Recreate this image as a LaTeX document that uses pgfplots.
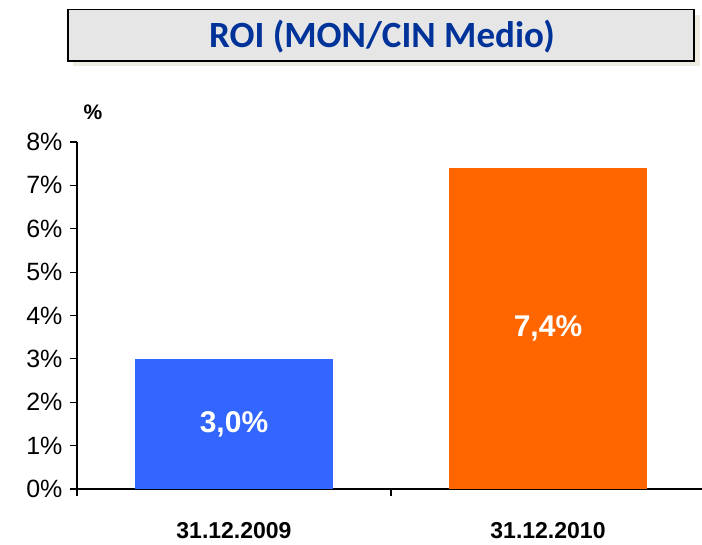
\documentclass[border=0pt]{standalone}
\usepackage{pgfplots}
\pgfplotsset{compat=1.18}
\usepackage{fontspec}
\setmainfont{Liberation Sans}
\newfontfamily\titlefont{Carlito}
\definecolor{barblue}{HTML}{3366FF}
\definecolor{barorange}{HTML}{FF6600}
\definecolor{titleblue}{HTML}{003399}
\definecolor{boxfill}{HTML}{E6E6E6}
\definecolor{shadowc}{HTML}{EEECE1}
\begin{document}
\begin{tikzpicture}
\useasboundingbox (0,0) rectangle (702pt,545pt);
% title box
\fill[shadowc] (73pt,479pt) rectangle (700pt,530pt);
\draw[line width=1.5pt, fill=boxfill] (68pt,484pt) rectangle (694pt,535.5pt);
\node[font=\titlefont\bfseries\fontsize{37}{42}\selectfont, text=titleblue] at (382pt,508pt) {ROI (MON/CIN Medio)};
\begin{axis}[
  at={(77pt,56pt)}, anchor=south west,
  scale only axis, width=628pt, height=347pt,
  xmin=0, xmax=2, ymin=0, ymax=8,
  axis x line*=bottom, axis y line*=left,
  axis line style={line width=1.2pt, black},
  clip=false,
  every tick/.style={black, line width=1.2pt},
  tick align=outside,
  major tick length=7pt,
  ytick={0,1,...,8},
  yticklabel={\pgfmathprintnumber{\tick}\%},
  yticklabel style={font=\fontsize{25}{29}\selectfont, xshift=-4pt},
  /pgf/number format/assume math mode=true,
  xtick={0,1,2},
  xticklabels={},
  extra x ticks={0.5,1.5},
  extra x tick labels={31.12.2009,31.12.2010},
  extra x tick style={major tick length=0pt, xticklabel style={font=\bfseries\fontsize{23}{27}\selectfont, yshift=-30pt}},
  ybar, bar width=0.63, bar shift=0pt,
  visualization depends on={y/2 \as \half},
  nodes near coords={\pgfmathprintnumber[fixed, fixed zerofill, precision=1, use comma]{\pgfplotspointmeta}\%},
  nodes near coords style={font=\bfseries\fontsize{30}{34}\selectfont, text=white, anchor=center, shift={(axis direction cs:0,-\half)}},
]
\addplot[fill=barblue, draw=none] coordinates {(0.5,3.0)};
\addplot[fill=barorange, draw=none] coordinates {(1.5,7.4)};
\node[font=\bfseries\fontsize{21}{25}\selectfont] at (rel axis cs:0,1) [xshift=16pt, yshift=30pt] {\%};
\end{axis}
\end{tikzpicture}
\end{document}
